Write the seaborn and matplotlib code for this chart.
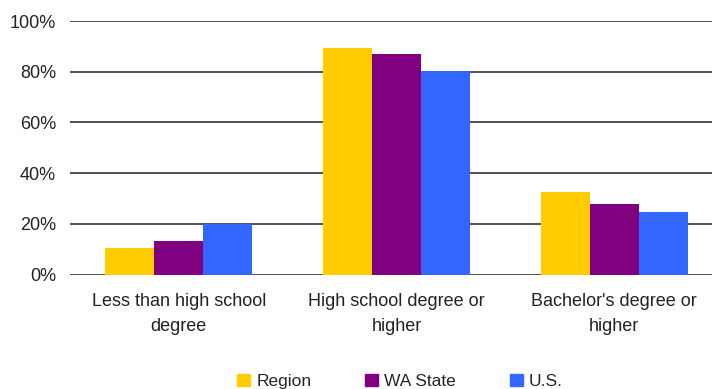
import pandas as pd
import matplotlib.pyplot as plt
import seaborn as sns

categories = ["Less than high school\ndegree", "High school degree or\nhigher", "Bachelor's degree or\nhigher"]
region = [10.5, 89.4, 32.6]
wa_state = [13.4, 87.0, 27.9]
us = [20.0, 80.2, 24.7]
series = ["Region", "WA State", "U.S."]
colors = ["#FFCC00", "#800080", "#3366FF"]

df = pd.DataFrame({
    "cat": categories * 3,
    "grp": [s for s in series for _ in categories],
    "val": region + wa_state + us,
})

sns.set_style("white")
plt.rcParams['font.family'] = ['Liberation Sans', 'DejaVu Sans']

fig = plt.figure(figsize=(7.12, 3.89), dpi=100)
ax = fig.add_axes([70 / 712, 1 - 274.7 / 389, 1 - 70 / 712, (274.7 - 21) / 389])

sns.barplot(data=df, x="cat", y="val", hue="grp", palette=colors, width=0.675,
            saturation=1, ax=ax, legend=False, zorder=3, linewidth=0)

ax.set_ylim(0, 100)
ax.set_xlim(-0.5, 2.45)
ax.set_yticks([0, 20, 40, 60, 80, 100])
ax.set_yticklabels([f"{v}%" for v in range(0, 101, 20)], fontsize=13, color="#222222")
ax.set_xticks(range(3))
ax.set_xticklabels(categories, fontsize=13, color="#222222", linespacing=1.6)
ax.tick_params(axis="x", length=0, pad=13)
ax.tick_params(axis="y", length=0, pad=10)
ax.yaxis.grid(True, color="#333333", linewidth=1.2, zorder=0)
ax.set_axisbelow(True)
for s in ax.spines.values():
    s.set_visible(False)
ax.set_xlabel("")
ax.set_ylabel("")

handles = [plt.Rectangle((0, 0), 1, 1, color=c) for c in colors]
fig.legend(handles, series, loc="lower center", bbox_to_anchor=(0.562, -0.04), ncol=3,
           frameon=False, fontsize=12.5, handlelength=0.75, handleheight=0.75,
           handletextpad=0.35, columnspacing=3.1)

plt.savefig("out.png", dpi=100)
